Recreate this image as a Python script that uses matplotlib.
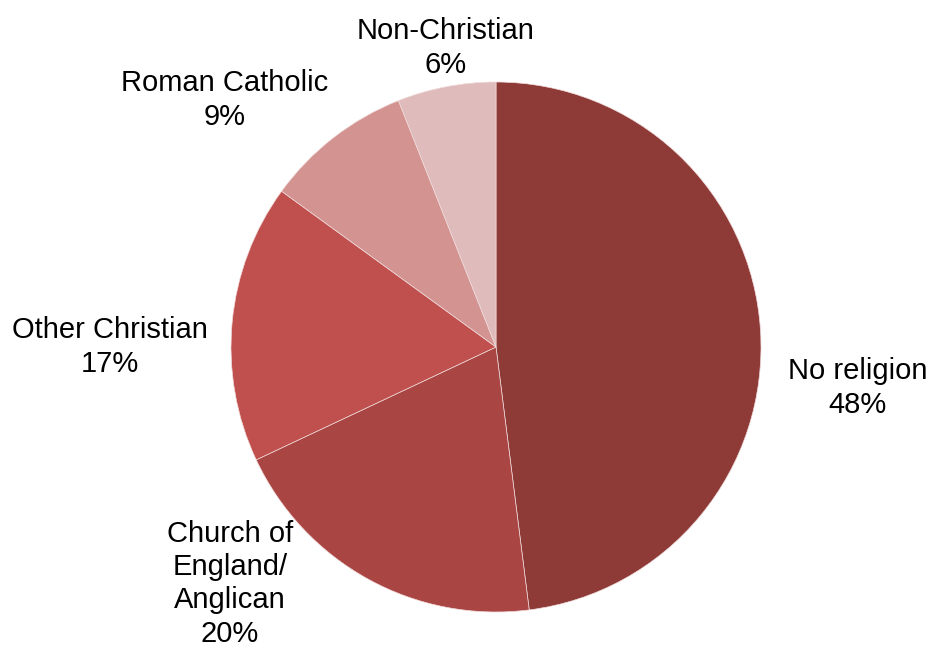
import matplotlib
matplotlib.use("Agg")
import matplotlib.pyplot as plt

categories = ["No religion", "Church of\nEngland/\nAnglican", "Other Christian", "Roman Catholic", "Non-Christian"]
values = [48, 20, 17, 9, 6]
colors = ["#8E3A37", "#A94543", "#C0504D", "#D39391", "#E0BBBB"]
# label centres (in pie-radius units)
label_pos = [(1.366, -0.155), (-1.004, -0.893), (-1.457, 0.0), (-1.023, 0.932), (-0.189, 1.128)]

plt.rcParams['font.family'] = ['Liberation Sans', 'DejaVu Sans']

fig = plt.figure(figsize=(9.30, 6.46), dpi=100)
ax = fig.add_axes([0, 0, 1, 1])
ax.pie(values, colors=colors, startangle=90, counterclock=False, radius=1.0,
       wedgeprops=dict(edgecolor="#F0DADA", linewidth=0.5))
for cat, v, (x, y) in zip(categories, values, label_pos):
    ax.text(x, y, f"{cat}\n{v}%", ha="center", va="center", fontsize=21, linespacing=1.24, color="black")

scale = 265.0
cx, cy = 496.0, 347.0
ax.set_xlim(-cx / scale, (930 - cx) / scale)
ax.set_ylim(-(646 - cy) / scale, cy / scale)
ax.set_aspect('auto')
ax.axis('off')
fig.savefig("out.png", dpi=100)
